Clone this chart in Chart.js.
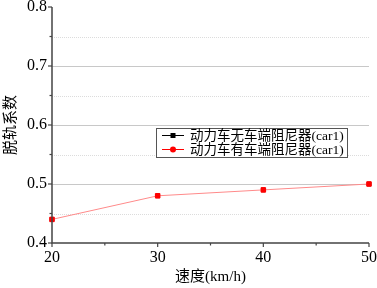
<!DOCTYPE html>
<html>
<head>
<meta charset="utf-8">
<script src="https://cdn.jsdelivr.net/npm/chart.js@4.4.0/dist/chart.umd.min.js"></script>
<style>
  html, body { margin: 0; padding: 0; background: #fff; }
  #wrap { width: 377px; height: 288px; }
</style>
</head>
<body>
<div id="wrap"><canvas id="c" width="377" height="288"></canvas></div>
<script>
const SPEEDS = [20, 30, 40, 50];
const NO_DAMPER = [0.44, 0.48, 0.49, 0.50];
const WITH_DAMPER = [0.44, 0.48, 0.49, 0.50];
const SERIES_NAMES = ['动力车无车端阻尼器(car1)', '动力车有车端阻尼器(car1)'];
const Y_TICKS = [0.4, 0.5, 0.6, 0.7, 0.8];
const Y_MINOR = [0.45, 0.55, 0.65, 0.75];
const X_TICKS = [20, 30, 40, 50];
const X_MINOR = [25, 35, 45];

const FONT = '"Liberation Serif", "Noto Sans CJK SC", serif';

// grid, axis lines, outward ticks, legend box drawn by hand
const frame = {
  id: 'frame',
  beforeDatasetsDraw(chart) {
    const { ctx, chartArea: a, scales: { y } } = chart;
    ctx.save();
    Y_TICKS.slice(1, -1).forEach((v) => {
      const py = Math.round(y.getPixelForValue(v)) + 0.5;
      ctx.strokeStyle = '#c8c8c8'; ctx.lineWidth = 1.2;
      ctx.beginPath(); ctx.moveTo(a.left, py); ctx.lineTo(a.right, py); ctx.stroke();
    });
    ctx.setLineDash([1, 1]);
    Y_MINOR.forEach((v) => {
      const py = Math.round(y.getPixelForValue(v)) + 0.5;
      ctx.strokeStyle = '#dcdcdc'; ctx.lineWidth = 1;
      ctx.beginPath(); ctx.moveTo(a.left, py); ctx.lineTo(a.right, py); ctx.stroke();
    });
    ctx.setLineDash([]);
    ctx.restore();
  },
  afterDatasetsDraw(chart) {
    const { ctx, chartArea: a, scales: { x, y } } = chart;
    ctx.save();
    ctx.strokeStyle = '#444'; ctx.lineWidth = 1.5;
    ctx.beginPath(); ctx.moveTo(a.left, a.top); ctx.lineTo(a.left, a.bottom); ctx.lineTo(a.right, a.bottom); ctx.stroke();
    ctx.lineWidth = 1.2;
    Y_TICKS.forEach((v) => {
      const py = y.getPixelForValue(v);
      ctx.beginPath(); ctx.moveTo(a.left - 4, py); ctx.lineTo(a.left, py); ctx.stroke();
    });
    Y_MINOR.forEach((v) => {
      const py = y.getPixelForValue(v);
      ctx.beginPath(); ctx.moveTo(a.left - 2.5, py); ctx.lineTo(a.left, py); ctx.stroke();
    });
    X_TICKS.forEach((v) => {
      const px = x.getPixelForValue(v);
      ctx.beginPath(); ctx.moveTo(px, a.bottom); ctx.lineTo(px, a.bottom + 4); ctx.stroke();
    });
    X_MINOR.forEach((v) => {
      const px = x.getPixelForValue(v);
      ctx.beginPath(); ctx.moveTo(px, a.bottom); ctx.lineTo(px, a.bottom + 2.5); ctx.stroke();
    });

    // legend
    const lx = 156, ly = 128, lw = 191, lh = 29;
    ctx.fillStyle = '#fff'; ctx.fillRect(lx, ly, lw, lh);
    ctx.strokeStyle = '#555'; ctx.lineWidth = 1;
    ctx.strokeRect(lx + 0.5, ly + 0.5, lw, lh);
    const rows = [
      { color: '#000', line: '#000', y: ly + 7.5, shape: 'rect' },
      { color: '#ff0000', line: '#ff0000', y: ly + 21.5, shape: 'circle' },
    ];
    ctx.font = '13.5px ' + FONT;
    ctx.textBaseline = 'middle';
    rows.forEach((r, i) => {
      ctx.strokeStyle = r.line; ctx.lineWidth = 1;
      ctx.beginPath(); ctx.moveTo(162, r.y); ctx.lineTo(184, r.y); ctx.stroke();
      ctx.fillStyle = r.color;
      if (r.shape === 'rect') ctx.fillRect(170.5, r.y - 2.5, 5, 5);
      else { ctx.beginPath(); ctx.arc(173, r.y, 3, 0, Math.PI * 2); ctx.fill(); }
      ctx.fillStyle = '#000';
      ctx.fillText(SERIES_NAMES[i], 190, r.y + 1);
    });
    ctx.restore();
  },
};

new Chart(document.getElementById('c'), {
  type: 'line',
  data: {
    datasets: [
      {
        label: SERIES_NAMES[0],
        data: SPEEDS.map((s, i) => ({ x: s, y: NO_DAMPER[i] })),
        borderColor: '#000', backgroundColor: '#000', borderWidth: 1, showLine: false,
        pointStyle: 'rect', pointRadius: 2.5, order: 2,
      },
      {
        label: SERIES_NAMES[1],
        data: SPEEDS.map((s, i) => ({ x: s, y: WITH_DAMPER[i] })),
        borderColor: '#ff8a8a', backgroundColor: '#ff0000', borderWidth: 1,
        pointStyle: 'rect', pointRadius: 3.2, pointBorderColor: '#ff0000', order: 1,
      },
    ],
  },
  options: {
    responsive: false,
    animation: false,
    clip: false,
    layout: { padding: { top: 7, right: 8, left: 0, bottom: 0 } },
    plugins: { legend: { display: false }, tooltip: { enabled: false } },
    scales: {
      x: {
        type: 'linear', min: 20, max: 50,
        afterBuildTicks: (s) => { s.ticks = X_TICKS.map((v) => ({ value: v })); },
        grid: { display: false, drawTicks: false },
        border: { display: false },
        ticks: { color: '#000', font: { family: FONT, size: 16 }, padding: 5, maxRotation: 0 },
        title: { display: true, text: '速度(km/h)', color: '#000', font: { family: FONT, size: 15 }, padding: { top: 2, bottom: 2 } },
        afterFit: (s) => { s.height = 45; s.paddingLeft = 0; s.paddingRight = 0; },
      },
      y: {
        min: 0.4, max: 0.8,
        afterBuildTicks: (s) => { s.ticks = Y_TICKS.map((v) => ({ value: v })); },
        grid: { display: false, drawTicks: false },
        border: { display: false },
        ticks: { color: '#000', font: { family: FONT, size: 16 }, padding: 5, callback: (v) => v.toFixed(1) },
        title: { display: true, text: '脱轨系数', color: '#000', font: { family: FONT, size: 15 }, padding: { top: 2, bottom: 2 } },
        afterFit: (s) => { s.width = 52; s.paddingTop = 0; s.paddingBottom = 0; },
      },
    },
  },
  plugins: [frame],
});
</script>
</body>
</html>
